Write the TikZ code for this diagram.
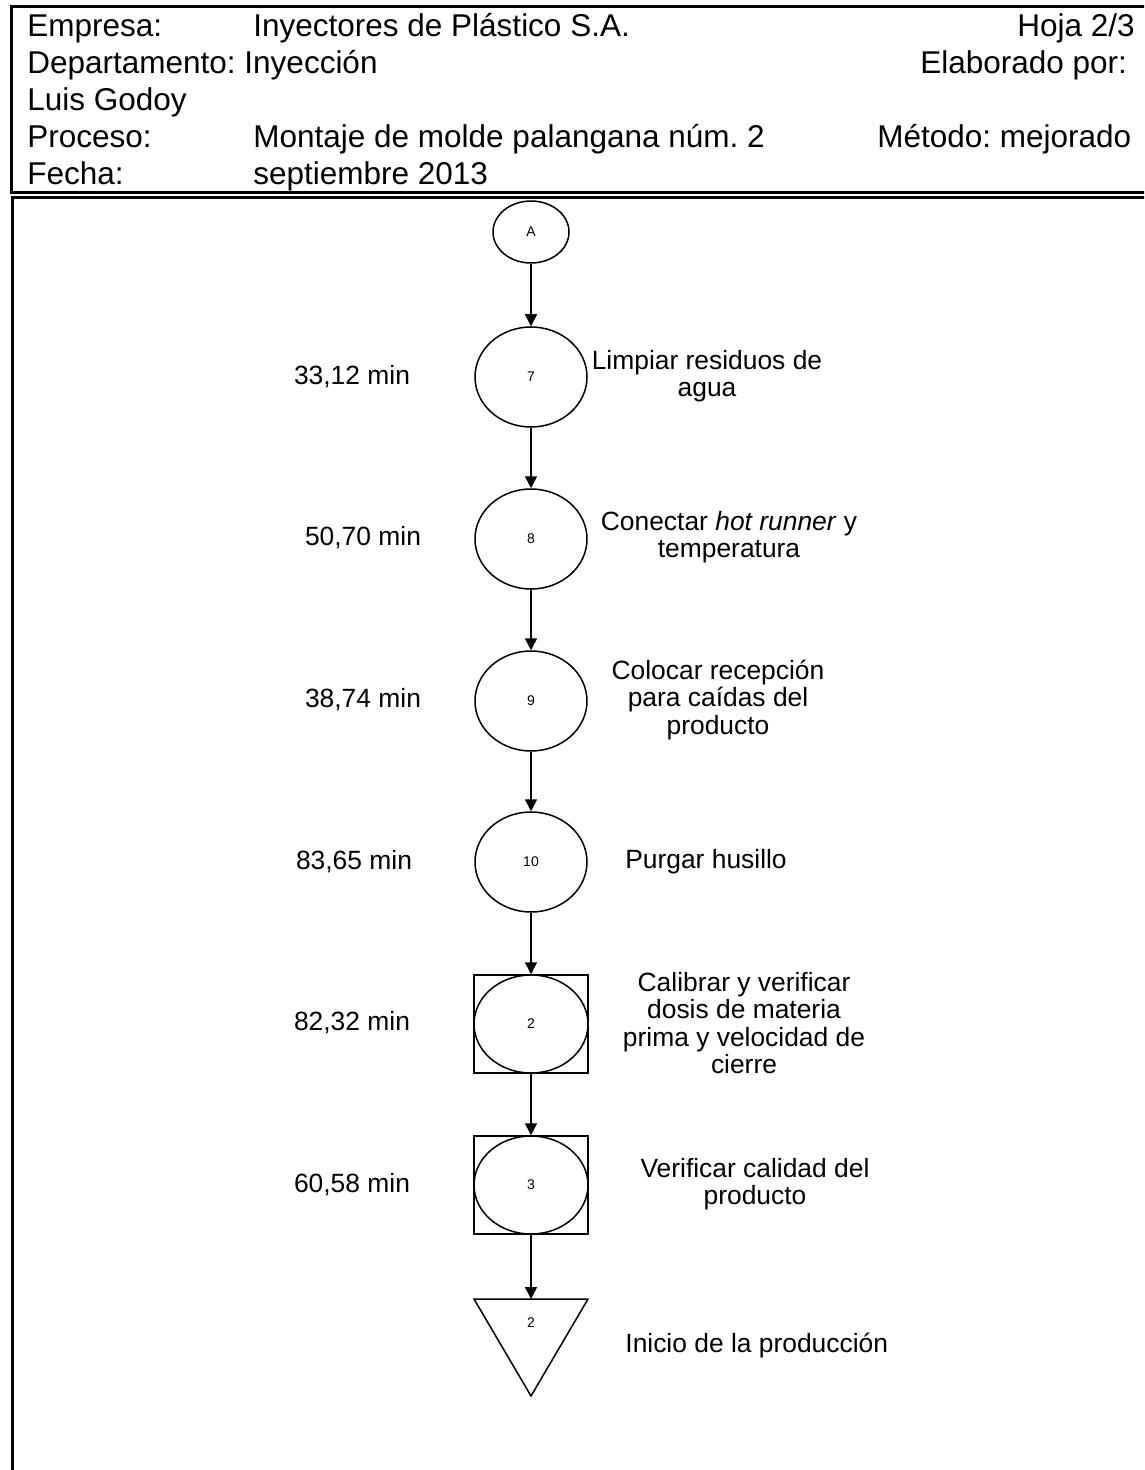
\documentclass[tikz,border=0pt]{standalone}
\usepackage{fontspec}
\setmainfont{Liberation Sans}
\usetikzlibrary{arrows.meta,shapes.geometric}
\begin{document}
\frenchspacing
\begin{tikzpicture}[x=0.5pt,y=-0.5pt,
  hdr/.style={anchor=base west,inner sep=0pt,font=\fontsize{15.75}{18}\selectfont},
  lbl/.style={align=center,inner sep=0pt,font=\fontsize{13.2}{13.75}\selectfont},
  tlbl/.style={inner sep=0pt,font=\fontsize{13.2}{14}\selectfont},
  num/.style={font=\fontsize{7}{8}\selectfont},
  opcirc/.style={ellipse,draw,line width=0.75pt,minimum width=56pt,minimum height=50pt,inner sep=0pt,num},
  conn/.style={ellipse,draw,line width=0.75pt,minimum width=38pt,minimum height=31pt,inner sep=0pt,num},
  combo/.style={rectangle,draw,line width=0.75pt,minimum width=57pt,minimum height=49pt,inner sep=0pt,num},
  arr/.style={line width=0.75pt,-{Triangle[width=6pt,length=6pt]}},
  frame/.style={line width=1.5pt}]
\useasboundingbox (0,0) rectangle (1144,1470);
\clip (0,0) rectangle (1144,1470);
\fill[white] (0,0) rectangle (1144,1470);
% frames
\draw[frame] (1170,7) -- (11,7) -- (11,193) -- (1170,193);
\draw[frame] (1170,197.5) -- (12,197.5) -- (12,1490);
% header
\node[hdr] (h1) at (27,37) {Empresa:};
\node[hdr] (h1v) at (253,37) {Inyectores de Plástico S.A.};
\node[hdr,anchor=base east] (h1r) at (1135,37) {Hoja 2/3};
\node[hdr] (h2) at (27,74) {Departamento: Inyección};
\node[hdr] (h2r) at (920,74) {Elaborado por:};
\node[hdr] (h3) at (27,111) {Luis Godoy};
\node[hdr] (h4) at (27,148) {Proceso:};
\node[hdr] (h4v) at (253,148) {Montaje de molde palangana núm. 2};
\node[hdr] (h4r) at (877,148) {Método: mejorado};
\node[hdr] (h5) at (27,185) {Fecha:};
\node[hdr] (h5v) at (253,185) {septiembre 2013};
% flow nodes
\node[conn] (A) at (531,232) {A};
\node[opcirc] (n7) at (531,377) {7};
\node[opcirc] (n8) at (531,539) {8};
\node[opcirc] (n9) at (531,701) {9};
\node[opcirc] (n10) at (531,862) {10};
\node[combo] (c2) at (531,1024) {2};
\draw[line width=0.75pt] (c2.center) ellipse [x radius=28.5pt, y radius=24.5pt];
\node[combo] (c3) at (531,1185) {3};
\draw[line width=0.75pt] (c3.center) ellipse [x radius=28.5pt, y radius=24.5pt];
\draw[line width=0.75pt] (474,1299) -- (588,1299) -- (531,1396) -- cycle;
\coordinate (tri) at (531,1299);
\node[num] (t2n) at (531,1323) {2};
% connectors
\draw[arr] (A) -- (n7);
\draw[arr] (n7) -- (n8);
\draw[arr] (n8) -- (n9);
\draw[arr] (n9) -- (n10);
\draw[arr] (n10) -- (c2);
\draw[arr] (c2) -- (c3);
\draw[arr] (c3) -- (tri);
% time labels
\node[tlbl] (m7) at (352,377) {33,12 min};
\node[tlbl] (m8) at (363,538) {50,70 min};
\node[tlbl] (m9) at (363,700) {38,74 min};
\node[tlbl] (m10) at (354,862) {83,65 min};
\node[tlbl] (m2) at (352,1023) {82,32 min};
\node[tlbl] (m3) at (352,1185) {60,58 min};
% descriptions
\node[lbl] (d7) at (707,376) {Limpiar residuos de\\agua};
\node[lbl] (d8) at (729,537) {Conectar \textit{hot runner} y\\temperatura};
\node[lbl] (d9) at (718,700) {Colocar recepción\\para caídas del\\producto};
\node[lbl] (d10) at (706,862) {Purgar husillo};
\node[lbl] (d2) at (744,1023) {Calibrar y verificar\\dosis de materia\\prima y velocidad de\\cierre};
\node[lbl] (d3) at (755,1184) {Verificar calidad del\\producto};
\node[lbl,anchor=west] (d11) at (625,1346) {Inicio de la producción};
\end{tikzpicture}
\end{document}
